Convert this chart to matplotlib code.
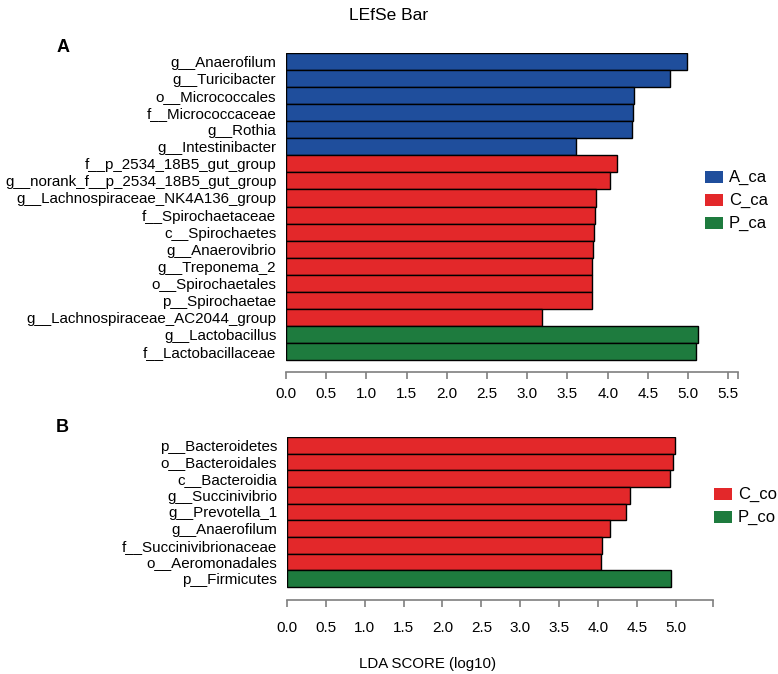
import matplotlib
matplotlib.use('Agg')
import matplotlib.pyplot as plt
from matplotlib.patches import Rectangle

plt.rcParams['font.family'] = ['Liberation Sans', 'DejaVu Sans']

# Panel A data (top to bottom)
a_labels = ['g__Anaerofilum', 'g__Turicibacter', 'o__Micrococcales', 'f__Micrococcaceae',
            'g__Rothia', 'g__Intestinibacter', 'f__p_2534_18B5_gut_group',
            'g__norank_f__p_2534_18B5_gut_group', 'g__Lachnospiraceae_NK4A136_group',
            'f__Spirochaetaceae', 'c__Spirochaetes', 'g__Anaerovibrio', 'g__Treponema_2',
            'o__Spirochaetales', 'p__Spirochaetae', 'g__Lachnospiraceae_AC2044_group',
            'g__Lactobacillus', 'f__Lactobacillaceae']
a_scores = [4.98, 4.78, 4.33, 4.31, 4.30, 3.61, 4.11, 4.03, 3.85, 3.84, 3.83, 3.82,
            3.81, 3.81, 3.80, 3.18, 5.12, 5.10]
a_groups = ['A_ca'] * 6 + ['C_ca'] * 10 + ['P_ca'] * 2

# Panel B data (top to bottom)
b_labels = ['p__Bacteroidetes', 'o__Bacteroidales', 'c__Bacteroidia', 'g__Succinivibrio',
            'g__Prevotella_1', 'g__Anaerofilum', 'f__Succinivibrionaceae',
            'o__Aeromonadales', 'p__Firmicutes']
b_scores = [4.99, 4.97, 4.93, 4.41, 4.36, 4.16, 4.05, 4.04, 4.94]
b_groups = ['C_co'] * 8 + ['P_co']

colors = {'A_ca': '#1f4e9c', 'C_ca': '#e3282a', 'P_ca': '#1e7b3e',
          'C_co': '#e3282a', 'P_co': '#1e7b3e'}

W, H = 778, 674
fig = plt.figure(figsize=(W / 100, H / 100), dpi=100)


def px_axes(x0, y0, x1, y1):
    return fig.add_axes([x0 / W, 1 - y1 / H, (x1 - x0) / W, (y1 - y0) / H])


def draw_panel(ax, labels, scores, groups, xmax, ticks, gap, xpad):
    n = len(labels)
    ypos = list(range(n))
    ax.barh(ypos, scores, height=1.0, color=[colors[g] for g in groups],
            edgecolor='black', linewidth=1.0)
    ax.set_ylim(n - 0.5 + gap, -0.5)
    ax.set_xlim(0, xmax)
    ax.set_yticks(ypos)
    ax.set_yticklabels(labels, fontsize=10.9)
    ax.tick_params(axis='y', length=0, pad=7)
    ax.set_xticks(ticks + [xmax])
    ax.set_xticklabels(['%.1f' % t for t in ticks] + [''], fontsize=11)
    ax.tick_params(axis='x', direction='out', length=5, width=1.2, color='#7f7f7f', pad=xpad)
    for s in ['top', 'right', 'left']:
        ax.spines[s].set_visible(False)
    ax.spines['bottom'].set_color('#7f7f7f')
    ax.spines['bottom'].set_linewidth(1.2)


def draw_legend(names, x0, y_first, step):
    for i, g in enumerate(names):
        yc = y_first + i * step
        fig.patches.append(Rectangle((x0 / W, 1 - (yc + 6) / H), 18 / W, 12 / H,
                                     transform=fig.transFigure, facecolor=colors[g],
                                     edgecolor='none'))
        fig.text((x0 + 24) / W, 1 - yc / H, g, ha='left', va='center', fontsize=12)


# Panel A
axA = px_axes(286, 53, 738, 372)
draw_panel(axA, a_labels, a_scores, a_groups, 5.62,
           [0.0, 0.5, 1.0, 1.5, 2.0, 2.5, 3.0, 3.5, 4.0, 4.5, 5.0, 5.5], 0.7, 6)
draw_legend(['A_ca', 'C_ca', 'P_ca'], 705, 177, 23)

# Panel B
axB = px_axes(287, 437, 713, 600)
draw_panel(axB, b_labels, b_scores, b_groups, 5.48,
           [0.0, 0.5, 1.0, 1.5, 2.0, 2.5, 3.0, 3.5, 4.0, 4.5, 5.0], 0.78, 10)
draw_legend(['C_co', 'P_co'], 714, 494, 23)

fig.text(389 / W, 1 - 15 / H, 'LEfSe Bar', ha='center', va='center', fontsize=12.5)
fig.text(63 / W, 1 - 48 / H, 'A', ha='center', va='center', fontsize=13, fontweight='bold')
fig.text(62 / W, 1 - 427 / H, 'B', ha='center', va='center', fontsize=13, fontweight='bold')
fig.text(428 / W, 1 - 664 / H, 'LDA SCORE (log10)', ha='center', va='center', fontsize=10.8)

fig.savefig('out.png', dpi=100)
